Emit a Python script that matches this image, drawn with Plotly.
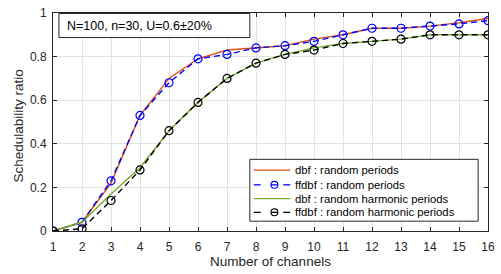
import plotly.graph_objects as go

channels = list(range(1, 17))
dbf_random = [0, 0.04, 0.22, 0.53, 0.70, 0.79, 0.83, 0.84, 0.85, 0.88, 0.90, 0.93, 0.93, 0.94, 0.955, 0.975]
ffdbf_random = [0, 0.04, 0.23, 0.53, 0.68, 0.79, 0.81, 0.84, 0.85, 0.87, 0.90, 0.93, 0.93, 0.94, 0.95, 0.965]
dbf_harmonic = [0, 0.04, 0.17, 0.29, 0.46, 0.59, 0.70, 0.77, 0.81, 0.84, 0.86, 0.87, 0.88, 0.90, 0.90, 0.90]
ffdbf_harmonic = [0, 0.01, 0.14, 0.28, 0.46, 0.59, 0.70, 0.77, 0.81, 0.83, 0.86, 0.87, 0.88, 0.90, 0.90, 0.90]

series_names = ["dbf : random periods", "ffdbf : random periods",
                "dbf : random harmonic periods", "ffdbf : random harmonic periods"]

x_ticks = list(range(1, 17))
y_ticks = [0, 0.2, 0.4, 0.6, 0.8, 1]
y_tick_labels = ["0", "0.2", "0.4", "0.6", "0.8", "1"]

FONT = "Liberation Sans, Arial, sans-serif"
W, H = 501, 274
L, R, T, B = 53, 6, 9, 43
PW, PH = W - L - R, H - T - B


def px(xp):
    return (xp - L) / PW


def py(yp):
    return (H - B - yp) / PH


styles = [
    dict(color="#D95319", dash="solid", marker=False),
    dict(color="#0000FF", dash="6px,4px", marker=True),
    dict(color="#77AC30", dash="solid", marker=False),
    dict(color="#000000", dash="6px,4px", marker=True),
]
values = [dbf_random, ffdbf_random, dbf_harmonic, ffdbf_harmonic]

fig = go.Figure()
for name, vals, st in zip(series_names, values, styles):
    fig.add_trace(go.Scatter(
        x=channels, y=vals, name=name,
        mode="lines+markers" if st["marker"] else "lines",
        line=dict(color=st["color"], width=1.4, dash=st["dash"]),
        marker=dict(symbol="circle-open", size=8, color=st["color"], line=dict(width=1.2)),
        showlegend=False,
    ))

axis_common = dict(showline=True, linecolor="#262626", linewidth=1, mirror="ticks",
                   ticks="inside", ticklen=4, tickcolor="#262626",
                   showgrid=True, gridcolor="#E3E3E3", gridwidth=1, zeroline=False,
                   tickfont=dict(family=FONT, size=12, color="#262626"))

fig.update_layout(
    width=W, height=H,
    margin=dict(l=L, r=R, t=T, b=B),
    paper_bgcolor="white", plot_bgcolor="white",
    font=dict(family=FONT, size=12, color="#262626"),
    xaxis=dict(range=[1, 16], tickvals=x_ticks, ticklabeloverflow="allow", ticklabelstandoff=5,
               title=dict(text="Number of channels", font=dict(family=FONT, size=13.5, color="#262626"), standoff=2),
               **axis_common),
    yaxis=dict(range=[0, 1], tickvals=y_ticks, ticktext=y_tick_labels, ticklabelstandoff=3,
               **axis_common),
    showlegend=False,
)

# y-axis label
fig.add_annotation(xref="paper", yref="paper", x=px(18), y=py(124), xanchor="center", yanchor="middle",
                   text="Schedulability ratio", textangle=-90, showarrow=False,
                   font=dict(family=FONT, size=13.5, color="#262626"))

# Manual legend (MATLAB-style compact)
shapes = [dict(type="rect", xref="paper", yref="paper", x0=px(253), x1=px(485), y0=py(158), y1=py(221),
               line=dict(color="#262626", width=1), fillcolor="white", layer="above")]
rows = [169, 184, 198, 212]
for name, st, ry in zip(series_names, styles, rows):
    if st["marker"]:
        for a, b in [(257, 264), (274.5, 281.5), (287, 294)]:
            shapes.append(dict(type="line", xref="paper", yref="paper", x0=px(a), x1=px(b), y0=py(ry), y1=py(ry),
                               line=dict(color=st["color"], width=1.3), layer="above"))
        shapes.append(dict(type="circle", xref="paper", yref="paper", x0=px(274.5), x1=px(281.5),
                           y0=py(ry + 3.5), y1=py(ry - 3.5), line=dict(color=st["color"], width=1.1),
                           fillcolor="rgba(0,0,0,0)", layer="above"))
    else:
        shapes.append(dict(type="line", xref="paper", yref="paper", x0=px(257), x1=px(294), y0=py(ry), y1=py(ry),
                           line=dict(color=st["color"], width=1.4), layer="above"))
    fig.add_annotation(xref="paper", yref="paper", x=px(297), y=py(ry), xanchor="left", yanchor="middle",
                       text=name, showarrow=False, font=dict(family=FONT, size=11.3, color="#000000"))

# Info box
shapes.append(dict(type="rect", xref="paper", yref="paper", x0=px(59), x1=px(253), y0=py(9.5), y1=py(34),
                   line=dict(color="#262626", width=1), fillcolor="white", layer="above"))
fig.add_annotation(xref="paper", yref="paper", x=px(65), y=py(22), xanchor="left", yanchor="middle",
                   text="N=100, n=30, U=0.6\u00b120%", showarrow=False,
                   font=dict(family=FONT, size=12.5, color="#000000"))

fig.update_layout(shapes=shapes)
fig.write_html("out.html", config={"displayModeBar": False},
               post_script="document.body.style.margin='0';document.body.style.overflow='hidden';")
